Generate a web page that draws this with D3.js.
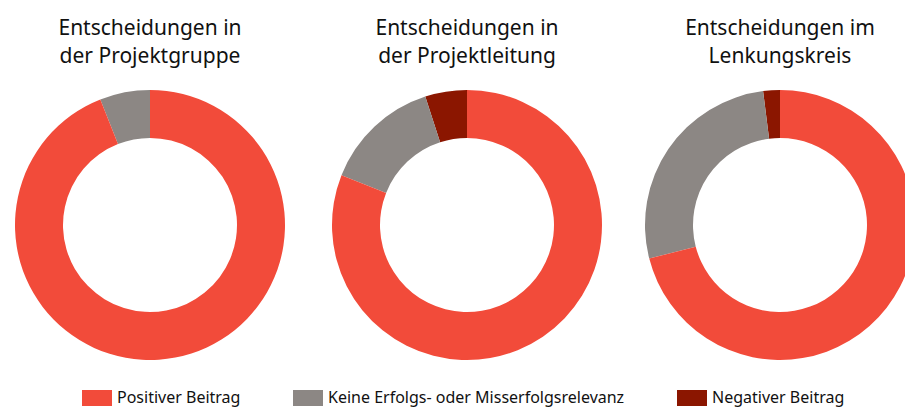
<!DOCTYPE html>
<html>
<head>
<meta charset="utf-8">
<script src="https://cdn.jsdelivr.net/npm/d3@7"></script>
<style>
  html, body { margin: 0; padding: 0; background: #fff; overflow: hidden; }
  svg { display: block; font-family: "Noto Sans", Lato, sans-serif; }
</style>
</head>
<body>
<div id="chart"></div>
<script>
// Decision boards (titles split in two lines)
const boards = [
  ['Entscheidungen in', 'der Projektgruppe'],
  ['Entscheidungen in', 'der Projektleitung'],
  ['Entscheidungen im', 'Lenkungskreis']
];

// Categories in legend order
const categories = ['Positiver Beitrag', 'Keine Erfolgs- oder Misserfolgsrelevanz', 'Negativer Beitrag'];
const colors = ['#F24B3A', '#8C8784', '#8B1600'];

// Shares in percent per board: [positive, neutral, negative]
const positive = [94, 81, 71];
const neutral = [6, 14, 27];
const negative = [0, 5, 2];

const width = 905, height = 408;

const svg = d3.select('#chart').append('svg')
  .attr('width', width)
  .attr('height', height);

const centers = [150, 467, 780];
const cy = 225;
const outerR = 135;
const innerR = 87;

// slices run counter-clockwise from 12 o'clock: negative, neutral, positive
const pie = d3.pie()
  .sort(null)
  .startAngle(0)
  .endAngle(-2 * Math.PI)
  .value(d => d.value);

const arc = d3.arc().innerRadius(innerR).outerRadius(outerR);

boards.forEach((title, i) => {
  const slices = [
    { cat: 2, value: negative[i] },
    { cat: 1, value: neutral[i] },
    { cat: 0, value: positive[i] }
  ];

  const g = svg.append('g')
    .attr('transform', `translate(${centers[i]},${cy})`);

  g.selectAll('path')
    .data(pie(slices))
    .join('path')
    .attr('d', arc)
    .attr('fill', d => colors[d.data.cat]);

  const t = svg.append('text')
    .attr('x', centers[i])
    .attr('y', 35)
    .attr('text-anchor', 'middle')
    .attr('font-size', '21px')
    .attr('fill', '#111');
  title.forEach((line, j) => {
    t.append('tspan')
      .attr('x', centers[i])
      .attr('dy', j === 0 ? 0 : 27.5)
      .text(line);
  });
});

// legend
const legendX = [82, 293, 677];
const legend = svg.append('g');
categories.forEach((c, i) => {
  legend.append('rect')
    .attr('x', legendX[i])
    .attr('y', 390)
    .attr('width', 30)
    .attr('height', 16)
    .attr('fill', colors[i]);
  legend.append('text')
    .attr('x', legendX[i] + 35)
    .attr('y', 403)
    .attr('font-size', '16px')
    .attr('fill', '#111')
    .text(c);
});
</script>
</body>
</html>
